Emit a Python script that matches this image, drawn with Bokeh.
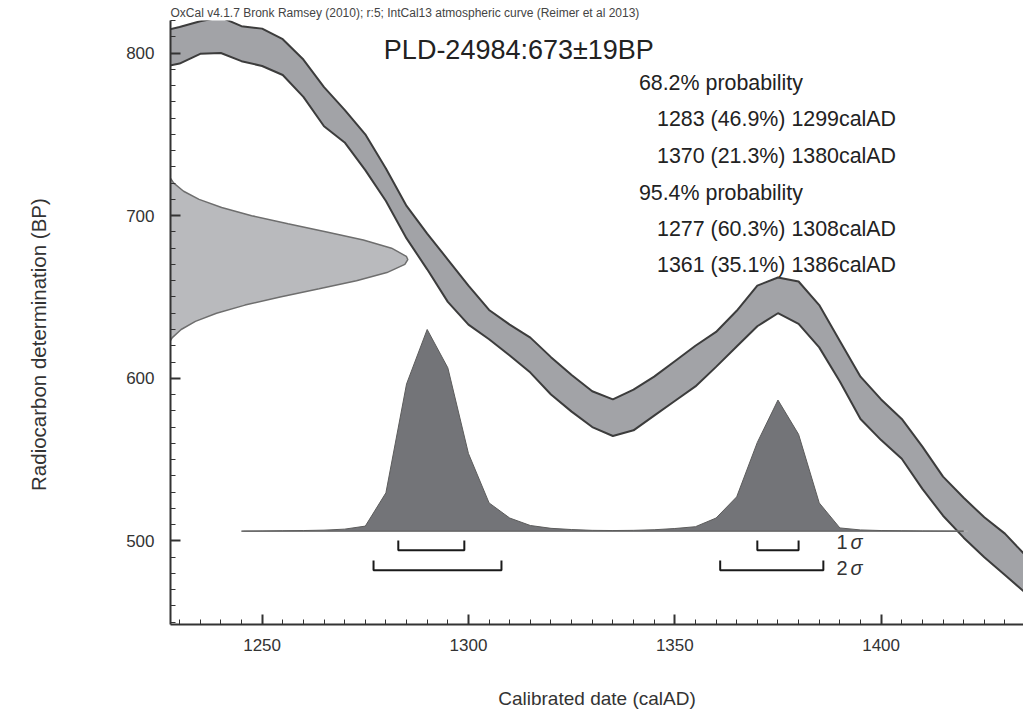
import math
from bokeh.plotting import figure
from bokeh.models import Label, SingleIntervalTicker, Range1d
from bokeh.layouts import row
from bokeh.embed import file_html
from bokeh.resources import INLINE

# ---------------- data ----------------
# IntCal13 calibration curve band (upper / lower edge, BP) at 5-year steps
cal_years = [1225, 1230, 1235, 1240, 1245, 1250, 1255, 1260, 1265, 1270,
             1275, 1280, 1285, 1290, 1295, 1300, 1305, 1310, 1315, 1320,
             1325, 1330, 1335, 1340, 1345, 1350, 1355, 1360, 1365, 1370,
             1375, 1380, 1385, 1390, 1395, 1400, 1405, 1410, 1415, 1420,
             1425, 1430, 1435, 1440]
cal_upper = [813, 816, 819.5, 822, 816.5, 815, 808.5, 796, 779, 765,
             750, 729, 706, 689, 673, 657, 642, 633, 625, 613,
             602, 592, 587, 593, 601, 610.5, 620, 628.5, 641.5, 657,
             662, 659.5, 645, 623, 601, 587, 575, 558, 539.5, 526.5,
             514.5, 504.5, 491, 475]
cal_lower = [791, 793.5, 799.5, 800, 795, 792, 786.5, 773, 755, 745,
             728, 709, 686, 667, 647, 633, 624, 614, 603.5, 590,
             579.5, 570, 564.5, 568, 577, 586, 595, 607, 619.5, 632,
             640, 633.5, 619, 598, 575, 562, 550.5, 532, 515.5, 502,
             490, 479, 468, 455]

# Radiocarbon determination PLD-24984: 673 +/- 19 BP (relative probability)
date_bp = [748, 745, 740, 735, 730, 725, 720, 715, 710, 705, 700, 695, 690, 685,
           680, 675, 673, 670, 665, 660, 655, 650, 645, 640, 635, 630, 625,
           620, 615, 610, 605, 600]
date_prob = [0.0, 0.001, 0.0025, 0.005, 0.011, 0.024, 0.047, 0.087, 0.15, 0.242,
             0.364, 0.512, 0.67, 0.819, 0.934, 0.994, 1.0, 0.988, 0.915, 0.791,
             0.639, 0.48, 0.337, 0.221, 0.135, 0.077, 0.041, 0.02, 0.0095, 0.004,
             0.0015, 0.0]

# Calibrated (posterior) distribution, relative probability
post_years = [1245, 1250, 1255, 1260, 1265, 1270, 1275, 1280, 1285, 1290,
              1295, 1300, 1305, 1310, 1315, 1320, 1325, 1330, 1335, 1340,
              1345, 1350, 1355, 1360, 1365, 1370, 1375, 1380, 1385, 1390,
              1395, 1400, 1405, 1410, 1415, 1420]
post_prob = [0.0, 0.001, 0.002, 0.003, 0.005, 0.01, 0.025, 0.19, 0.73, 1.0,
             0.81, 0.385, 0.14, 0.065, 0.028, 0.014, 0.008, 0.004, 0.003, 0.004,
             0.007, 0.013, 0.022, 0.065, 0.17, 0.44, 0.65, 0.48, 0.14, 0.016,
             0.006, 0.003, 0.002, 0.001, 0.0005, 0.0]

# Highest probability ranges
sigma1_start = [1283, 1370]
sigma1_end = [1299, 1380]
sigma2_start = [1277, 1361]
sigma2_end = [1308, 1386]

title_text = "PLD-24984:673\u00b119BP"
header_text = "OxCal v4.1.7 Bronk Ramsey (2010); r:5; IntCal13 atmospheric curve (Reimer et al 2013)"
range_lines = ["68.2% probability",
               "1283 (46.9%) 1299calAD",
               "1370 (21.3%) 1380calAD",
               "95.4% probability",
               "1277 (60.3%) 1308calAD",
               "1361 (35.1%) 1386calAD"]
x_label = "Calibrated date (calAD)"
y_label = "Radiocarbon determination (BP)"

# ---------------- layout ----------------
FONT = "Liberation Sans"
TOTAL_W, TOTAL_H = 1023, 712
LAB_W = 70

# narrow figure holding the rotated y-axis title
lab = figure(width=LAB_W, height=TOTAL_H, x_range=Range1d(0, LAB_W), y_range=Range1d(0, TOTAL_H),
             output_backend="svg", toolbar_location=None, x_axis_type=None, y_axis_type=None,
             min_border=0, min_border_left=0, min_border_right=0, min_border_top=0, min_border_bottom=0)
lab.outline_line_color = None
lab.xgrid.visible = False
lab.ygrid.visible = False
lab.add_layout(Label(x=38, y=TOTAL_H - 382, text=y_label, angle=math.pi / 2,
                     text_font=FONT, text_font_size="20.5px", text_color="#333333",
                     text_align="center", text_baseline="middle"))

# ---------------- main figure ----------------
X0, X1 = 1227.8, 1434.5
Y0, Y1 = 448.6, 820.0

p = figure(width=TOTAL_W - LAB_W, height=TOTAL_H, x_range=Range1d(X0, X1), y_range=Range1d(Y0, Y1),
           output_backend="svg", toolbar_location=None,
           min_border_left=170 - LAB_W, min_border_right=0, min_border_top=20, min_border_bottom=88)
p.outline_line_color = None
p.xgrid.visible = False
p.ygrid.visible = False
p.background_fill_color = "white"
p.border_fill_color = "white"

p.title.text = header_text
p.title.text_font = FONT
p.title.text_font_size = "12px"
p.title.text_font_style = "normal"
p.title.text_color = "#444444"
p.title.align = "left"
p.title.standoff = 2
p.title.offset = 0

# radiocarbon date distribution on y axis
date_w = 57.5
dx = [X0 - 2 + pr * (date_w + 2) for pr in date_prob]
p.patch(dx, date_bp, fill_color="#b9babd", line_color="#6e6e6e", line_width=1.5)

# calibration curve band
band_x = cal_years + cal_years[::-1]
band_y = cal_upper + cal_lower[::-1]
p.patch(band_x, band_y, fill_color="#a2a3a7", line_color="#3c3c3c", line_width=2)

# posterior distribution
base = 506.0
scale = 124.0
p.segment(x0=1245.5, y0=base, x1=1421, y1=base, line_color="#b4b4b4", line_width=1)
py = [base + v * scale for v in post_prob]
p.patch(post_years, py, fill_color="#737478", line_color="#5c5c5c", line_width=1)

# range brackets
def bracket(starts, ends, yl, h):
    xs, ys = [], []
    for s, e in zip(starts, ends):
        xs.append([s, s, e, e])
        ys.append([yl + h, yl, yl, yl + h])
    p.multi_line(xs, ys, line_color="#1a1a1a", line_width=2)

bracket(sigma1_start, sigma1_end, 494.3, 6.0)
bracket(sigma2_start, sigma2_end, 482.0, 6.0)

for labtxt, yy in (("1", 499.5), ("2", 483.5)):
    p.add_layout(Label(x=1389.2, y=yy, text=labtxt, text_font=FONT, text_font_size="20px",
                       text_color="#333333", text_baseline="middle"))
    p.add_layout(Label(x=1389.2, y=yy, x_offset=14, text="\u03c3", text_font=FONT,
                       text_font_size="20px", text_font_style="italic",
                       text_color="#333333", text_baseline="middle"))

# texts
p.add_layout(Label(x=1279.5, y=802.0, text=title_text, text_font=FONT,
                   text_font_size="27px", text_color="#222222", text_baseline="middle"))
ys_lines = [781.5, 759.3, 736.4, 714.2, 692.0, 669.8]
for t, yy in zip(range_lines, ys_lines):
    xx = 1341.3 if "probability" in t else 1345.7
    p.add_layout(Label(x=xx, y=yy, text=t, text_font=FONT, text_font_size="21.4px",
                       text_color="#222222", text_baseline="middle"))

# axes
for ax in (p.xaxis[0], p.yaxis[0]):
    ax.axis_line_width = 2
    ax.axis_line_color = "#333333"
    ax.major_tick_line_color = "#333333"
    ax.minor_tick_line_color = "#333333"
    ax.major_tick_line_width = 2
    ax.minor_tick_line_width = 1
    ax.major_tick_in = 10
    ax.major_tick_out = 0
    ax.minor_tick_in = 5
    ax.minor_tick_out = 0
    ax.major_label_text_font = FONT
    ax.major_label_text_font_size = "17px"
    ax.major_label_text_color = "#333333"
    ax.axis_label_text_font = FONT
    ax.axis_label_text_font_style = "normal"
    ax.axis_label_text_color = "#333333"

p.xaxis.axis_label_text_font_size = "19px"
p.xaxis.ticker = SingleIntervalTicker(interval=50, num_minor_ticks=10)
p.yaxis.ticker = SingleIntervalTicker(interval=100, num_minor_ticks=10)
p.xaxis.axis_label = x_label
p.xaxis.major_label_standoff = 14
p.yaxis.major_label_standoff = 16
p.xaxis.axis_label_standoff = 34

layout = row(lab, p)
open("out.html", "w").write(file_html(layout, INLINE))
